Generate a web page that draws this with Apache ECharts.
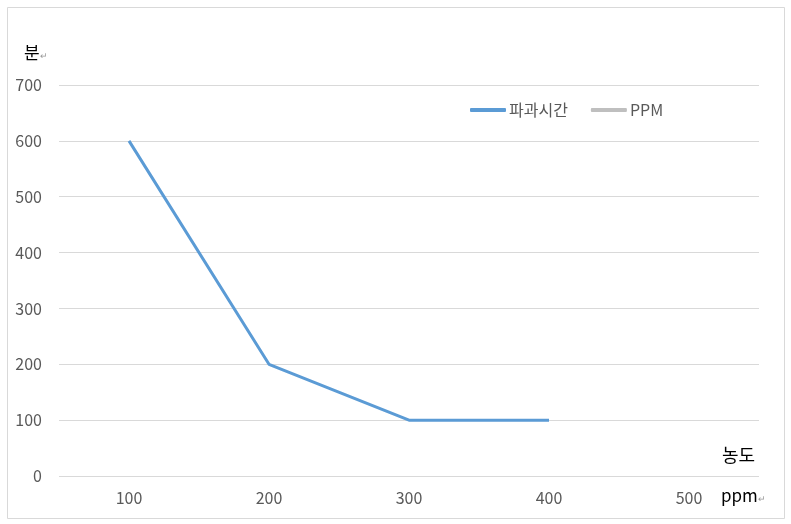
<!DOCTYPE html>
<html><head><meta charset="utf-8">
<script src="https://cdn.jsdelivr.net/npm/echarts@6/dist/echarts.min.js"></script>
<style>html,body{margin:0;padding:0;background:#fff}#c{width:791px;height:524px}</style>
</head><body><div id="c"></div>
<script>
const categories = ['100', '200', '300', '400', '500'];
const breakTime = [600, 200, 100, 100, null];
const ppm = [null, null, null, null, null];
const seriesNames = ['파과시간', 'PPM'];
const yTicks = [0, 100, 200, 300, 400, 500, 600, 700];

const font = '"Noto Sans CJK KR", "Noto Sans", sans-serif';
const chart = echarts.init(document.getElementById('c'));
chart.setOption({
  animation: false,
  backgroundColor: '#fff',
  graphic: [
    { type: 'rect', shape: { x: 7.5, y: 7.5, width: 777, height: 511 }, style: { fill: 'none', stroke: '#D9D9D9', lineWidth: 1 } },
    { type: 'text', left: 24, top: 44, style: { text: '{a|분}{b|↵}', rich: { a: { fontSize: 17, fill: '#000', fontFamily: font }, b: { fontSize: 9, fill: '#999', fontFamily: font, padding: [6, 0, 0, 0] } } } },
    { type: 'text', left: 722, top: 446, style: { text: '농도', fontSize: 18, fill: '#000', fontFamily: font } },
    { type: 'text', left: 721, top: 487, style: { text: '{a|ppm}{b|↵}', rich: { a: { fontSize: 17, fill: '#000', fontFamily: font }, b: { fontSize: 9, fill: '#999', fontFamily: font, padding: [6, 0, 0, 0] } } } }
  ],
  grid: { left: 59, right: 32, top: 85, bottom: 48, containLabel: false },
  legend: {
    left: 470, top: 102, padding: 0,
    itemWidth: 36, itemHeight: 4, itemGap: 23,
    icon: 'roundRect',
    textStyle: { fontSize: 16, color: '#595959', fontFamily: font, padding: [0, 0, 0, -2] },
    data: seriesNames
  },
  xAxis: {
    type: 'category', data: categories, boundaryGap: true,
    axisLine: { show: false }, axisTick: { show: false },
    axisLabel: { fontSize: 16, color: '#595959', margin: 14, fontFamily: font }
  },
  yAxis: {
    type: 'value', min: yTicks[0], max: yTicks[yTicks.length - 1], interval: 100,
    axisLine: { show: false }, axisTick: { show: false },
    axisLabel: { fontSize: 16, color: '#595959', margin: 17, fontFamily: font },
    splitLine: { lineStyle: { color: '#D9D9D9', width: 1 } }
  },
  series: [
    { name: seriesNames[0], type: 'line', data: breakTime, color: '#5B9BD5', showSymbol: false, symbol: 'none', lineStyle: { width: 3, color: '#5B9BD5' } },
    { name: seriesNames[1], type: 'line', data: ppm, color: '#BFBFBF', showSymbol: false, symbol: 'none', lineStyle: { width: 3, color: '#BFBFBF' } }
  ]
});
</script></body></html>
